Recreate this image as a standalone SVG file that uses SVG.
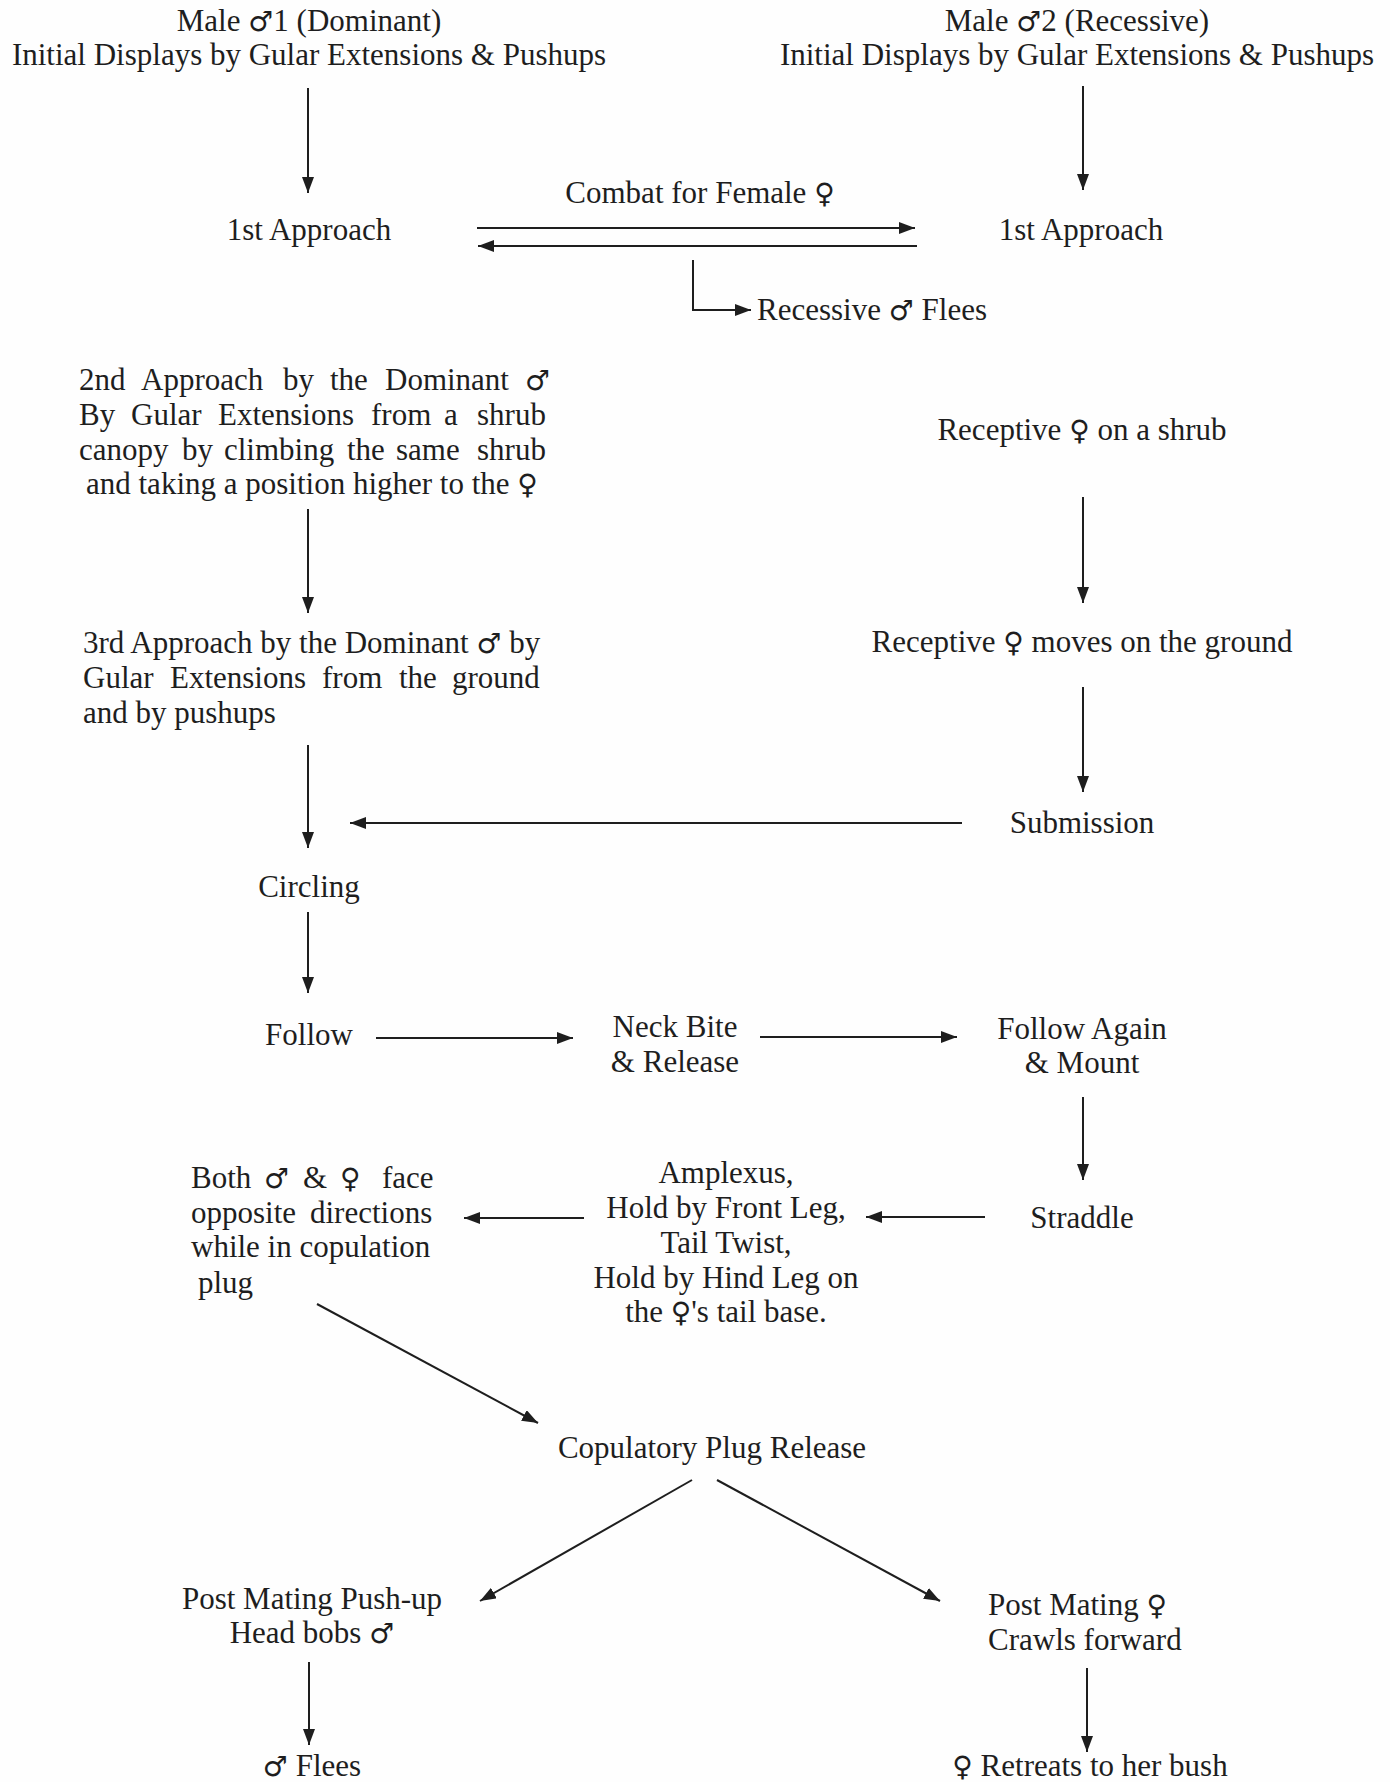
<svg xmlns="http://www.w3.org/2000/svg" width="1390" height="1782" viewBox="0 0 1390 1782">
<style>
text{font-family:"Liberation Serif","Times New Roman",serif;font-size:31px;fill:#1e1e1e}
.c{text-anchor:middle}
.s{font-family:"DejaVu Sans",sans-serif;font-size:28px;font-weight:normal}
.ln{stroke:#1e1e1e;stroke-width:2;fill:none}
</style>
<defs>
<marker id="ah" markerUnits="userSpaceOnUse" markerWidth="16" markerHeight="12" refX="16" refY="6" orient="auto">
<path d="M0,0 L16,6 L0,12 z" fill="#1e1e1e"/>
</marker>
</defs>
<rect width="1390" height="1782" fill="#fefefe"/>

<g id="connectors">
<line class="ln" x1="308" y1="88" x2="308" y2="193" marker-end="url(#ah)"/>
<line class="ln" x1="1083" y1="86" x2="1083" y2="190" marker-end="url(#ah)"/>
<line class="ln" x1="477" y1="228" x2="915" y2="228" marker-end="url(#ah)"/>
<line class="ln" x1="917" y1="246" x2="478" y2="246" marker-end="url(#ah)"/>
<path class="ln" d="M693 260 V310 H751" marker-end="url(#ah)"/>
<line class="ln" x1="308" y1="509" x2="308" y2="613" marker-end="url(#ah)"/>
<line class="ln" x1="1083" y1="497" x2="1083" y2="603" marker-end="url(#ah)"/>
<line class="ln" x1="1083" y1="687" x2="1083" y2="792" marker-end="url(#ah)"/>
<line class="ln" x1="308" y1="745" x2="308" y2="848" marker-end="url(#ah)"/>
<line class="ln" x1="962" y1="823" x2="350" y2="823" marker-end="url(#ah)"/>
<line class="ln" x1="308" y1="912" x2="308" y2="993" marker-end="url(#ah)"/>
<line class="ln" x1="376" y1="1038" x2="573" y2="1038" marker-end="url(#ah)"/>
<line class="ln" x1="760" y1="1037" x2="957" y2="1037" marker-end="url(#ah)"/>
<line class="ln" x1="1083" y1="1097" x2="1083" y2="1180" marker-end="url(#ah)"/>
<line class="ln" x1="985" y1="1217" x2="866" y2="1217" marker-end="url(#ah)"/>
<line class="ln" x1="584" y1="1218" x2="464" y2="1218" marker-end="url(#ah)"/>
<line class="ln" x1="317" y1="1304" x2="538" y2="1423" marker-end="url(#ah)"/>
<line class="ln" x1="692" y1="1480" x2="480" y2="1601" marker-end="url(#ah)"/>
<line class="ln" x1="717" y1="1480" x2="940" y2="1601" marker-end="url(#ah)"/>
<line class="ln" x1="309" y1="1662" x2="309" y2="1745" marker-end="url(#ah)"/>
<line class="ln" x1="1087" y1="1668" x2="1087" y2="1752" marker-end="url(#ah)"/>
</g>

<g id="male1"><text class="c" x="309" y="31">Male <tspan class="s">♂</tspan>1 (Dominant)</text><text class="c" x="309" y="65">Initial Displays by Gular Extensions &amp; Pushups</text></g>
<g id="male2"><text class="c" x="1077" y="31">Male <tspan class="s">♂</tspan>2 (Recessive)</text><text class="c" x="1077" y="65">Initial Displays by Gular Extensions &amp; Pushups</text></g>
<g id="approach1-left"><text class="c" x="309" y="240">1st Approach</text></g>
<g id="approach1-right"><text class="c" x="1081" y="240">1st Approach</text></g>
<g id="combat-label"><text class="c" x="700" y="203">Combat for Female <tspan class="s">♀</tspan></text></g>
<g id="recessive-flees"><text x="757" y="320">Recessive <tspan class="s">♂</tspan> Flees</text></g>

<g id="approach2">
<text y="390"><tspan x="79">2nd</tspan><tspan x="141">Approach</tspan><tspan x="283">by</tspan><tspan x="330">the</tspan><tspan x="385">Dominant</tspan><tspan x="525" class="s">♂</tspan></text>
<text y="425"><tspan x="79">By</tspan><tspan x="131">Gular</tspan><tspan x="218">Extensions</tspan><tspan x="371">from</tspan><tspan x="444">a</tspan><tspan x="477">shrub</tspan></text>
<text y="460"><tspan x="79">canopy</tspan><tspan x="182">by</tspan><tspan x="224">climbing</tspan><tspan x="347">the</tspan><tspan x="396">same</tspan><tspan x="477">shrub</tspan></text>
<text x="86" y="494">and taking a position higher to the <tspan class="s">♀</tspan></text>
</g>

<g id="approach3">
<text x="83" y="653">3rd Approach by the Dominant <tspan class="s">♂</tspan> by</text>
<text y="688"><tspan x="83">Gular</tspan><tspan x="170">Extensions</tspan><tspan x="322">from</tspan><tspan x="399">the</tspan><tspan x="452">ground</tspan></text>
<text x="83" y="723">and by pushups</text>
</g>

<g id="receptive-shrub"><text class="c" x="1082" y="440">Receptive <tspan class="s">♀</tspan> on a shrub</text></g>
<g id="receptive-ground"><text class="c" x="1082" y="652">Receptive <tspan class="s">♀</tspan> moves on the ground</text></g>
<g id="submission"><text class="c" x="1082" y="833">Submission</text></g>
<g id="circling"><text class="c" x="309" y="897">Circling</text></g>
<g id="follow"><text class="c" x="309" y="1045">Follow</text></g>
<g id="neck-bite"><text class="c" x="675" y="1037">Neck Bite</text><text class="c" x="675" y="1072">&amp; Release</text></g>
<g id="follow-again"><text class="c" x="1082" y="1039">Follow Again</text><text class="c" x="1082" y="1073">&amp; Mount</text></g>
<g id="straddle"><text class="c" x="1082" y="1228">Straddle</text></g>

<g id="amplexus">
<text class="c" x="726" y="1183">Amplexus,</text>
<text class="c" x="726" y="1218">Hold by Front Leg,</text>
<text class="c" x="726" y="1253">Tail Twist,</text>
<text class="c" x="726" y="1288">Hold by Hind Leg on</text>
<text class="c" x="726" y="1322">the <tspan class="s">♀</tspan>'s tail base.</text>
</g>

<g id="both-face">
<text y="1188"><tspan x="191">Both</tspan><tspan x="264" class="s">♂</tspan><tspan x="303">&amp;</tspan><tspan x="340" class="s">♀</tspan><tspan x="382">face</tspan></text>
<text y="1223"><tspan x="191">opposite</tspan><tspan x="310">directions</tspan></text>
<text x="191" y="1257">while in copulation</text>
<text x="198" y="1293">plug</text>
</g>

<g id="plug-release"><text class="c" x="712" y="1458">Copulatory Plug Release</text></g>
<g id="post-male"><text class="c" x="312" y="1609">Post Mating Push-up</text><text class="c" x="312" y="1643">Head bobs <tspan class="s">♂</tspan></text></g>
<g id="post-female"><text x="988" y="1615">Post Mating <tspan class="s">♀</tspan></text><text x="988" y="1650">Crawls forward</text></g>
<g id="male-flees"><text class="c" x="312" y="1776"><tspan class="s">♂</tspan> Flees</text></g>
<g id="female-retreats"><text class="c" x="1090" y="1776"><tspan class="s">♀</tspan> Retreats to her bush</text></g>
</svg>
